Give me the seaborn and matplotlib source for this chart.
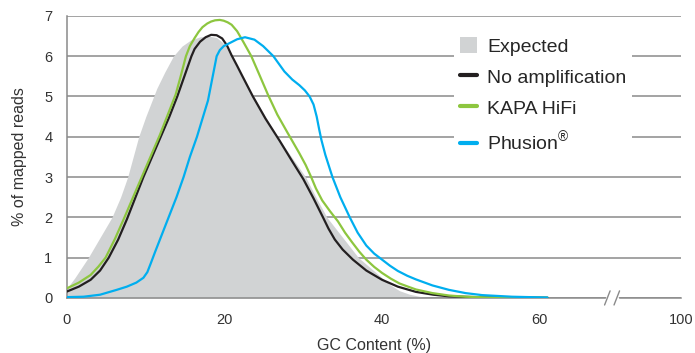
import numpy as np
import pandas as pd
import seaborn as sns
import matplotlib.pyplot as plt
from matplotlib.patches import Patch
from matplotlib.lines import Line2D

# GC content (%) / % of mapped reads
expected_gc = [0, 1.0, 2.7, 4.2, 5.7, 6.8, 7.7, 8.4, 9.1, 10.0, 10.8, 11.4, 12.4, 13.5, 14.6,
               15.7, 16.9, 18.0, 19.0, 20.0, 20.8, 22.2, 23.7, 25.2, 26.7, 28.5, 30.3, 31.6,
               33.0, 35.0, 37.0, 38.5, 39.7, 41.0, 42.2, 43.5, 45.0, 47.0]
expected_val = [0.24, 0.5, 1.0, 1.5, 2.0, 2.5, 3.0, 3.5, 4.0, 4.5, 4.9, 5.2, 5.6, 6.0, 6.25,
                6.4, 6.48, 6.5, 6.46, 6.3, 6.0, 5.5, 5.0, 4.5, 4.0, 3.5, 3.0, 2.5,
                2.0, 1.5, 1.0, 0.75, 0.55, 0.33, 0.18, 0.09, 0.03, 0.0]

noamp_gc = [0, 1.5, 3.0, 4.2, 5.3, 6.5, 7.6, 8.6, 9.7, 10.8, 11.9, 13.0, 14.0, 14.9, 15.8,
            16.2, 16.9, 17.6, 18.3, 19.0, 19.7, 20.3, 20.9, 21.6, 22.2, 23.6, 25.2, 27.0,
            28.5, 30.0, 31.3, 32.5, 33.2, 34.0, 35.0, 36.3, 38.0, 40.0, 42.0, 44.3, 46.5,
            48.5, 52, 56, 61]
noamp_val = [0.16, 0.28, 0.45, 0.68, 1.0, 1.45, 1.95, 2.45, 3.0, 3.5, 4.0, 4.5, 5.0, 5.5, 6.0,
             6.18, 6.36, 6.47, 6.53, 6.52, 6.44, 6.27, 6.02, 5.76, 5.53, 5.0, 4.45, 3.9,
             3.42, 2.95, 2.47, 2.0, 1.72, 1.45, 1.2, 0.95, 0.68, 0.45, 0.28, 0.15, 0.08,
             0.04, 0.02, 0.01, 0.005]

kapa_gc = [0, 1.5, 3.0, 4.0, 4.9, 6.1, 7.3, 8.5, 9.6, 10.7, 11.8, 12.8, 13.8, 14.5, 15.1,
           15.6, 16.2, 16.7, 17.2, 17.8, 18.3, 18.8, 19.4, 19.9, 20.4, 20.9, 21.6, 22.4,
           23.4, 24.4, 25.5, 26.7, 28.0, 29.5, 30.3, 31.0, 31.6, 32.4, 33.4, 34.4, 35.3,
           36.2, 37.1, 38.0, 39.0, 40.0, 41.1, 42.2, 43.3, 44.3, 46.4, 48.5, 50.6, 54, 61]
kapa_val = [0.24, 0.38, 0.57, 0.78, 1.0, 1.47, 2.0, 2.55, 3.05, 3.55, 4.05, 4.55, 5.05, 5.55,
            6.0, 6.25, 6.45, 6.6, 6.72, 6.81, 6.86, 6.89, 6.9, 6.88, 6.84, 6.78, 6.62, 6.35,
            6.0, 5.55, 5.05, 4.55, 4.1, 3.59, 3.3, 3.0, 2.72, 2.42, 2.15, 1.9, 1.62,
            1.38, 1.15, 0.95, 0.77, 0.62, 0.48, 0.36, 0.28, 0.21, 0.12, 0.06, 0.03, 0.01, 0.005]

phusion_gc = [0, 2.1, 4.2, 6.3, 7.6, 8.8, 9.7, 10.2, 10.6, 11.2, 12.0, 12.9, 13.9, 14.8, 15.6,
              16.5, 17.2, 17.9, 18.3, 18.7, 19.0, 19.4, 19.9, 20.7, 21.6, 22.6, 23.8, 24.9,
              26.2, 27.6, 28.6, 29.5, 30.2, 30.8, 31.3, 31.7, 32.0, 32.3, 32.8, 33.7, 34.7,
              35.9, 36.9, 38.0, 39.0, 40.0, 41.0, 42.0, 43.2, 44.3, 46.4, 48.5, 50.6, 52.7,
              56.5, 61]
phusion_val = [0.02, 0.03, 0.08, 0.2, 0.28, 0.38, 0.5, 0.64, 0.84, 1.15, 1.55, 2.0, 2.5, 3.0,
               3.5, 4.0, 4.45, 4.9, 5.3, 5.7, 6.0, 6.15, 6.25, 6.33, 6.42, 6.47, 6.41, 6.25,
               6.0, 5.62, 5.42, 5.28, 5.15, 5.0, 4.8, 4.5, 4.2, 3.92, 3.55, 3.0, 2.5,
               2.0, 1.62, 1.3, 1.1, 0.95, 0.8, 0.67, 0.55, 0.46, 0.31, 0.2, 0.12, 0.07,
               0.03, 0.01]

# broken x axis: 0-60 linear, then a break, last tick is 100
xtick_pos = [0, 20, 40, 60, 78.0]
xtick_labels = ['0', '20', '40', '60', '100']
break_at = 69.2

c_expected = '#d1d3d4'
c_noamp = '#231f20'
c_kapa = '#8dc63f'
c_phusion = '#00aeef'
c_axis = '#8a8a8a'

sns.set_style('white')
plt.rcParams['font.family'] = ['Liberation Sans', 'DejaVu Sans']
plt.rcParams['mathtext.fontset'] = 'custom'
plt.rcParams['mathtext.rm'] = 'Liberation Sans'

fig = plt.figure(figsize=(6.95, 3.53), dpi=100)
ax = fig.add_axes([0.0964, 0.156, 0.884, 0.799])

ax.fill_between(expected_gc, expected_val, 0, color=c_expected, lw=0, zorder=1)

curves = [
    (noamp_gc, noamp_val, 'No amplification', c_noamp),
    (kapa_gc, kapa_val, 'KAPA HiFi', c_kapa),
    (phusion_gc, phusion_val, 'Phusion$^{\\mathrm{®}}$', c_phusion),
]
for gc, val, name, col in curves:
    df = pd.DataFrame({'gc': gc, 'pct': val})
    sns.lineplot(data=df, x='gc', y='pct', color=col, lw=1.6, ax=ax, zorder=3,
                 sort=False, estimator=None)

ax.set_xlim(0, xtick_pos[-1])
ax.set_ylim(0, 7)
ax.set_xticks(xtick_pos)
ax.set_xticklabels(xtick_labels)
ax.set_yticks(range(0, 8))
ax.yaxis.grid(True, color=c_axis, lw=1.1, zorder=0)
ax.set_axisbelow(True)
ax.tick_params(axis='both', direction='out', length=5.5, width=1.1, color=c_axis,
               labelsize=10.5, labelcolor='#333333', pad=5)
for s in ['top', 'right']:
    ax.spines[s].set_visible(False)
for s in ['left', 'bottom']:
    ax.spines[s].set_color(c_axis)
    ax.spines[s].set_linewidth(1.1)

ax.set_xlabel('GC Content (%)', fontsize=11.5, color='#333333', labelpad=8)
ax.set_ylabel('% of mapped reads', fontsize=11.5, color='#333333', labelpad=12)

# axis break mark
trans = ax.get_xaxis_transform()
ax.plot([break_at - 0.6, break_at + 0.6], [0, 0], color='white', lw=2.5,
        transform=trans, clip_on=False, zorder=5)
for dx in (-0.6, 0.6):
    ax.plot([break_at + dx - 0.35, break_at + dx + 0.35], [-0.025, 0.025], color=c_axis,
            lw=1.0, transform=trans, clip_on=False, zorder=6)

handles = [Patch(facecolor=c_expected, edgecolor='none')]
handles += [Line2D([0], [0], color=col, lw=3) for _, _, _, col in curves]
labels = ['Expected'] + [name for _, _, name, _ in curves]
ax.legend(handles, labels, loc='upper left', bbox_to_anchor=(0.63, 0.945),
          fontsize=14, frameon=True, facecolor='white', edgecolor='none', framealpha=1,
          fancybox=False, handlelength=0.9, handleheight=0.9, handletextpad=0.5,
          labelspacing=0.62, borderpad=0.3, borderaxespad=0)

fig.savefig('out.png', dpi=100)
